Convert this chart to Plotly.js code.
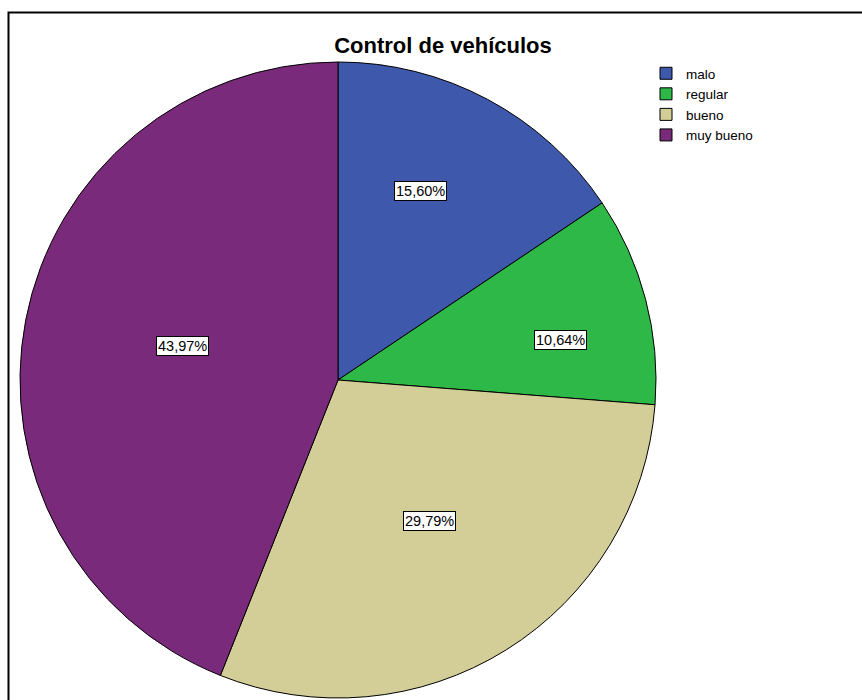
<!DOCTYPE html>
<html>
<head>
<meta charset="utf-8">
<script src="https://cdn.plot.ly/plotly-3.0.1.min.js"></script>
<style>html,body{margin:0;padding:0;background:#fff;}#chart{width:862px;height:700px;}</style>
</head>
<body>
<div id="chart"></div>
<script>
// Data
const categories = ["malo", "regular", "bueno", "muy bueno"];
const percents = [15.60, 10.64, 29.79, 43.97];
const titleText = "Control de vehículos";

// Style
const colors = ["#3E58AC", "#2EB848", "#D3CE97", "#7A2A7A"];
const labelRadius = [0.65, 0.71, 0.53, 0.50];      // fraction of pie radius
const labelAngleShift = [-4.5, 4.6, -1.0, 1.4];      // degrees
const W = 862, H = 700;
const CX = 338, CY = 380, R = 318; // pie centre & radius in px

const fmt = v => v.toFixed(2).replace(".", ",") + "%";

const total = percents.reduce((a, b) => a + b, 0);
let cum = 0;
const annotations = percents.map((v, i) => {
  const a = v / total * 2 * Math.PI;
  const mid = cum + a / 2 + labelAngleShift[i] * Math.PI / 180;
  cum += a;
  const d = labelRadius[i] * R;
  const px = CX + d * Math.sin(mid);
  const py = CY - d * Math.cos(mid);
  return {
    x: px / W, y: 1 - py / H, xref: "paper", yref: "paper",
    xanchor: "center", yanchor: "middle",
    text: fmt(v), showarrow: false,
    font: {family: "Liberation Sans, Arial, sans-serif", size: 14.5, color: "#000"},
    bgcolor: "#ffffff", bordercolor: "#000000", borderwidth: 1, borderpad: 1
  };
});

const trace = {
  type: "pie",
  labels: categories,
  values: percents,
  sort: false,
  direction: "clockwise",
  rotation: 0,
  textinfo: "none",
  hoverinfo: "label+percent",
  marker: {colors: colors, line: {color: "#000000", width: 1}},
  domain: {x: [(CX - R) / W, (CX + R) / W], y: [1 - (CY + R) / H, 1 - (CY - R) / H]}
};

const layout = {
  width: W, height: H,
  margin: {l: 0, r: 0, t: 0, b: 0},
  paper_bgcolor: "#ffffff",
  title: {
    text: "<b>" + titleText + "</b>",
    x: 443 / W, xanchor: "center", xref: "paper",
    y: 1 - 45 / H, yanchor: "middle", yref: "paper",
    font: {family: "Liberation Sans, Arial, sans-serif", size: 22, color: "#000"}
  },
  showlegend: true,
  legend: {
    x: 646 / W, xanchor: "left", y: 1 - 58 / H, yanchor: "top",
    font: {family: "Liberation Sans, Arial, sans-serif", size: 13.5, color: "#000"},
    tracegroupgap: 0, itemwidth: 30, bgcolor: "rgba(0,0,0,0)"
  },
  annotations: annotations,
  shapes: [{
    type: "rect", xref: "paper", yref: "paper",
    x0: 8.5 / W, x1: 1.05, y0: -0.05, y1: 1 - 12.5 / H,
    line: {color: "#000000", width: 2}, fillcolor: "rgba(0,0,0,0)", layer: "below"
  }]
};

Plotly.newPlot("chart", [trace], layout, {displayModeBar: false, staticPlot: true});
</script>
</body>
</html>
